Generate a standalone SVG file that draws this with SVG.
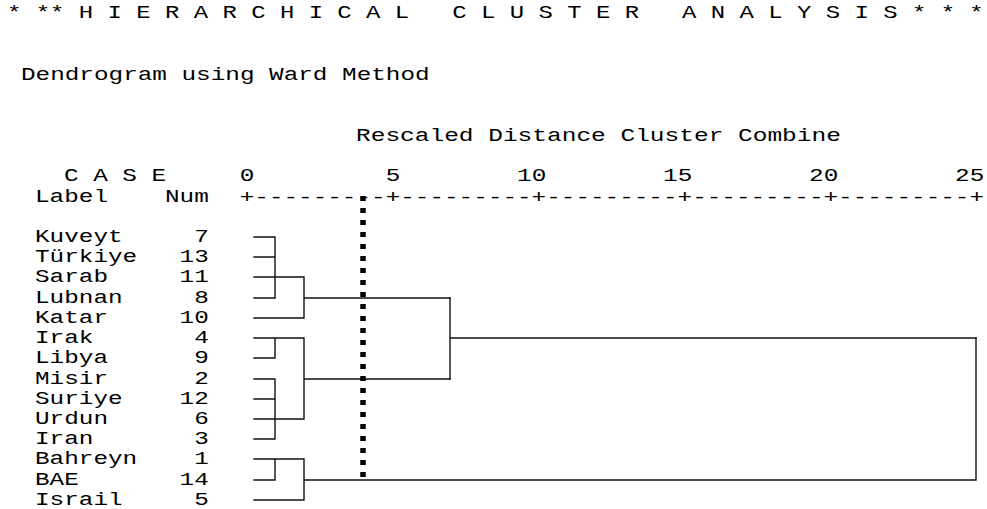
<svg xmlns="http://www.w3.org/2000/svg" width="987" height="509" viewBox="0 0 987 509">
<style>
text{font-family:"Liberation Mono","DejaVu Sans Mono",monospace;font-size:18px;fill:#000;}
.ln{stroke:#111;stroke-width:1.4;fill:none;stroke-linecap:square;}
.dot{stroke:#000;stroke-width:5.5;stroke-dasharray:5 7;fill:none;}
</style>
<rect width="987" height="509" fill="#fff"/>
<g id="title" transform="scale(1.3306 1)">
<text x="5.26" y="18" xml:space="preserve">* ** H I E R A R C H I C A L   C L U S T E R   A N A L Y S I S * * *</text>
</g>
<g id="axis-title" transform="scale(1.3611 1)">
<text x="261.55" y="141">Rescaled Distance Cluster Combine</text>
</g>
<g transform="scale(1.3519 1)">
<g id="subtitle">
<text x="15.53" y="80">Dendrogram using Ward Method</text>
</g>
<g id="header">
<text x="47.34" y="181" xml:space="preserve">C A S E</text>
<text x="25.89" y="202">Label</text>
<text x="122.05" y="202">Num</text>
</g>
<g id="axis">
<text x="177.31" y="181">0</text>
<text x="285.30" y="181">5</text>
<text x="382.50" y="181">10</text>
<text x="490.49" y="181">15</text>
<text x="598.49" y="181">20</text>
<text x="706.49" y="181">25</text>
<text x="177.31" y="203">+---------+---------+---------+---------+---------+</text>
</g>
<g id="case-kuveyt"><text x="25.89" y="242">Kuveyt</text><text x="143.65" y="242">7</text></g>
<g id="case-turkiye"><text x="25.89" y="262">Türkiye</text><text x="132.85" y="262">13</text></g>
<g id="case-sarab"><text x="25.89" y="282">Sarab</text><text x="132.85" y="282">11</text></g>
<g id="case-lubnan"><text x="25.89" y="303">Lubnan</text><text x="143.65" y="303">8</text></g>
<g id="case-katar"><text x="25.89" y="323">Katar</text><text x="132.85" y="323">10</text></g>
<g id="case-irak"><text x="25.89" y="343">Irak</text><text x="143.65" y="343">4</text></g>
<g id="case-libya"><text x="25.89" y="363">Libya</text><text x="143.65" y="363">9</text></g>
<g id="case-misir"><text x="25.89" y="384">Misir</text><text x="143.65" y="384">2</text></g>
<g id="case-suriye"><text x="25.89" y="404">Suriye</text><text x="132.85" y="404">12</text></g>
<g id="case-urdun"><text x="25.89" y="424">Urdun</text><text x="143.65" y="424">6</text></g>
<g id="case-iran"><text x="25.89" y="444">Iran</text><text x="143.65" y="444">3</text></g>
<g id="case-bahreyn"><text x="25.89" y="464">Bahreyn</text><text x="143.65" y="464">1</text></g>
<g id="case-bae"><text x="25.89" y="485">BAE</text><text x="132.85" y="485">14</text></g>
<g id="case-israil"><text x="25.89" y="505">Israil</text><text x="143.65" y="505">5</text></g>
</g>
<g id="connectors">
<path class="ln" d="M254 237H275M254 257H275M254 277H304M254 298H275M275 237V298M254 318H304M304 277V318M304 298H450"/>
<path class="ln" d="M254 338H304M254 358H275M275 338V358M254 379H275M254 399H275M254 419H304M254 439H275M275 379V439M304 338V419M304 379H450"/>
<path class="ln" d="M450 298V379M450 338H976"/>
<path class="ln" d="M254 459H304M254 480H275M275 459V480M254 500H304M304 459V500M304 480H976M976 338V480"/>
</g>
<g id="cutoff">
<line class="dot" x1="363" y1="196" x2="363" y2="477"/>
</g>
</svg>
